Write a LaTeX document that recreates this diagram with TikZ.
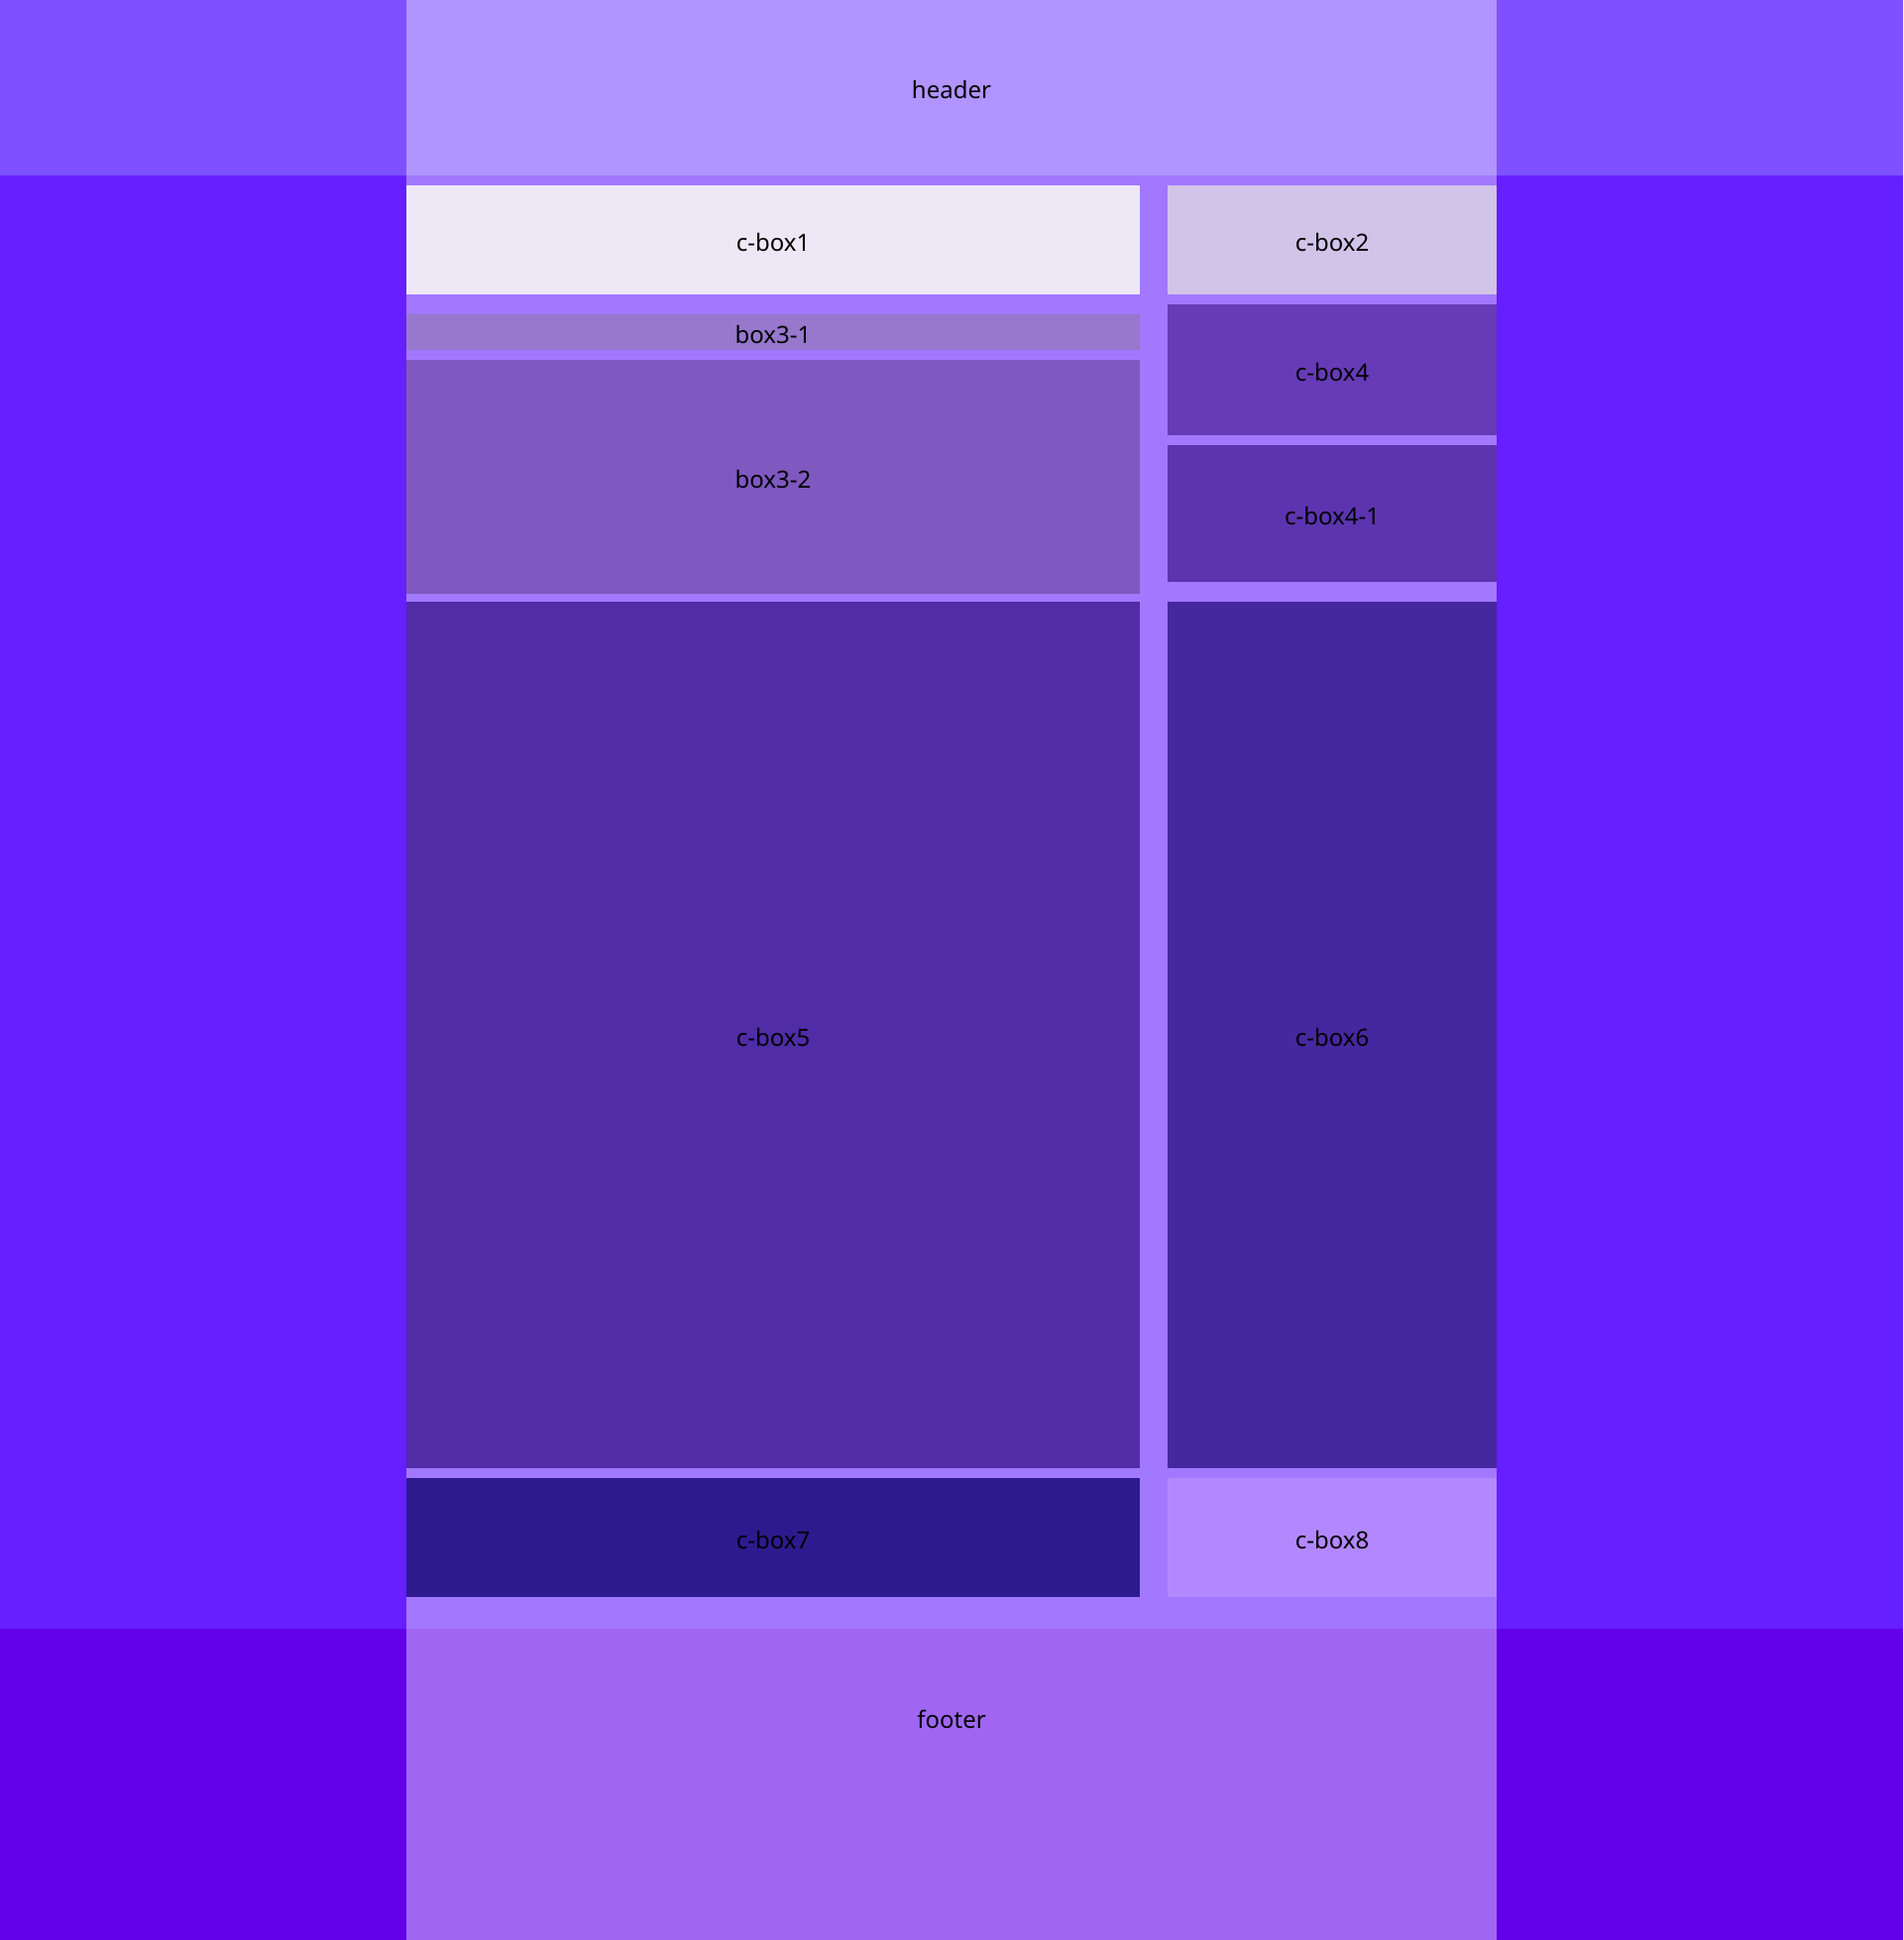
\documentclass[tikz,border=0pt]{standalone}
\usepackage{fontspec}
\setmainfont{Noto Sans}
\definecolor{outerTop}{HTML}{7F50FF}
\definecolor{outerMid}{HTML}{661FFF}
\definecolor{outerBot}{HTML}{6200EA}
\definecolor{headC}{HTML}{B194FF}
\definecolor{contentC}{HTML}{A178FF}
\definecolor{footC}{HTML}{A066F2}
\definecolor{cbOne}{HTML}{EEE8F6}
\definecolor{cbTwo}{HTML}{D1C4E9}
\definecolor{bThreeOne}{HTML}{9778CD}
\definecolor{bThreeTwo}{HTML}{7F58C0}
\definecolor{cbFour}{HTML}{673AB7}
\definecolor{cbFourOne}{HTML}{5C34AF}
\definecolor{cbFive}{HTML}{502CA7}
\definecolor{cbSix}{HTML}{4527A0}
\definecolor{cbSeven}{HTML}{2E1A8F}
\definecolor{cbEight}{HTML}{B388FF}
\begin{document}
\begin{tikzpicture}[x=1pt,y=-1pt,
  area/.style={draw=none,inner sep=0pt,outer sep=0pt,anchor=north west,font=\fontsize{24}{29}\selectfont,text=black,text height=22pt,text depth=0pt},
  lbl/.style={inner sep=0pt,font=\fontsize{24}{29}\selectfont,text=black,text height=22pt,text depth=0pt}]
\useasboundingbox (0,0) rectangle (1920,1957);
% outer bands
\node[area,fill=outerTop,minimum width=1920pt,minimum height=177pt] (topband) at (0,0) {};
\node[area,fill=outerMid,minimum width=1920pt,minimum height=1466pt] (midband) at (0,177) {};
\node[area,fill=outerBot,minimum width=1920pt,minimum height=314pt] (botband) at (0,1643) {};
% header / content / footer
\node[area,fill=headC,minimum width=1100pt,minimum height=177pt] (header) at (410,0) {header};
\node[area,fill=contentC,minimum width=1100pt,minimum height=1466pt] (content) at (410,177) {};
\node[area,fill=footC,minimum width=1100pt,minimum height=314pt] (footer) at (410,1643) {};
\node[lbl] (footertext) at (960,1732) {footer};
% left column
\node[area,fill=cbOne,minimum width=740pt,minimum height=110pt] (cbox1) at (410,187) {c-box1};
\node[area,fill=bThreeOne,minimum width=740pt,minimum height=36pt] (box31) at (410,317) {box3-1};
\node[area,fill=bThreeTwo,minimum width=740pt,minimum height=236pt] (box32) at (410,363) {box3-2};
\node[area,fill=cbFive,minimum width=740pt,minimum height=874pt] (cbox5) at (410,607) {c-box5};
\node[area,fill=cbSeven,minimum width=740pt,minimum height=120pt] (cbox7) at (410,1491) {c-box7};
% right column
\node[area,fill=cbTwo,minimum width=332pt,minimum height=110pt] (cbox2) at (1178,187) {c-box2};
\node[area,fill=cbFour,minimum width=332pt,minimum height=132pt] (cbox4) at (1178,307) {c-box4};
\node[area,fill=cbFourOne,minimum width=332pt,minimum height=138pt] (cbox41) at (1178,449) {c-box4-1};
\node[area,fill=cbSix,minimum width=332pt,minimum height=874pt] (cbox6) at (1178,607) {c-box6};
\node[area,fill=cbEight,minimum width=332pt,minimum height=120pt] (cbox8) at (1178,1491) {c-box8};
\end{tikzpicture}
\end{document}
